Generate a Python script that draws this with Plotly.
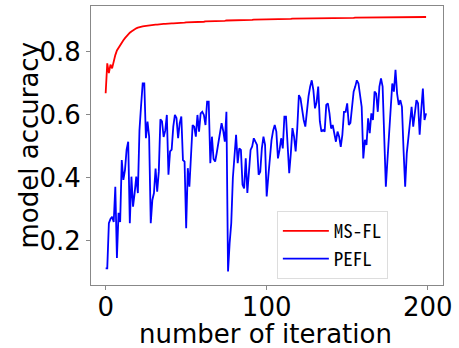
import plotly.graph_objects as go

iterations = list(range(200))

ms_fl = [
    0.669, 0.764, 0.733, 0.760, 0.748, 0.772, 0.790, 0.805, 0.814, 0.822,
    0.830, 0.837, 0.844, 0.851, 0.856, 0.861, 0.865, 0.869, 0.872, 0.875,
    0.877, 0.879, 0.880, 0.881, 0.882, 0.883, 0.884, 0.885, 0.885, 0.886,
    0.886, 0.887, 0.887, 0.888, 0.888, 0.889, 0.889, 0.889, 0.890, 0.890,
    0.890, 0.891, 0.891, 0.891, 0.892, 0.892, 0.892, 0.893, 0.893, 0.893,
    0.894, 0.894, 0.894, 0.894, 0.895, 0.895, 0.895, 0.895, 0.896, 0.896,
    0.896, 0.896, 0.897, 0.897, 0.897, 0.897, 0.898, 0.898, 0.898, 0.898,
    0.899, 0.899, 0.899, 0.899, 0.899, 0.900, 0.900, 0.900, 0.900, 0.900,
    0.901, 0.901, 0.901, 0.901, 0.901, 0.901, 0.902, 0.902, 0.902, 0.902,
    0.902, 0.902, 0.903, 0.903, 0.903, 0.903, 0.903, 0.903, 0.903, 0.904,
    0.904, 0.904, 0.904, 0.904, 0.904, 0.904, 0.904, 0.905, 0.905, 0.905,
    0.905, 0.905, 0.905, 0.905, 0.905, 0.905, 0.906, 0.906, 0.906, 0.906,
    0.906, 0.906, 0.906, 0.906, 0.906, 0.906, 0.906, 0.907, 0.907, 0.907,
    0.907, 0.907, 0.907, 0.907, 0.907, 0.907, 0.907, 0.907, 0.907, 0.907,
    0.908, 0.908, 0.908, 0.908, 0.908, 0.908, 0.908, 0.908, 0.908, 0.908,
    0.908, 0.908, 0.908, 0.908, 0.908, 0.909, 0.909, 0.909, 0.909, 0.909,
    0.909, 0.909, 0.909, 0.909, 0.909, 0.909, 0.909, 0.909, 0.909, 0.909,
    0.909, 0.909, 0.910, 0.910, 0.910, 0.910, 0.910, 0.910, 0.910, 0.910,
    0.910, 0.910, 0.910, 0.910, 0.910, 0.910, 0.910, 0.910, 0.910, 0.910,
    0.910, 0.910, 0.910, 0.910, 0.910, 0.910, 0.911, 0.911, 0.911, 0.911,
]

pefl = [
    0.113, 0.113, 0.256, 0.270, 0.277, 0.260, 0.372, 0.146, 0.289, 0.260,
    0.457, 0.394, 0.425, 0.490, 0.515, 0.256, 0.404, 0.309, 0.352, 0.404,
    0.352, 0.552, 0.630, 0.700, 0.700, 0.526, 0.579, 0.531, 0.256, 0.330,
    0.352, 0.430, 0.356, 0.420, 0.586, 0.580, 0.530, 0.550, 0.600, 0.410,
    0.484, 0.490, 0.563, 0.600, 0.590, 0.526, 0.574, 0.595, 0.457, 0.452,
    0.240, 0.431, 0.372, 0.470, 0.568, 0.563, 0.531, 0.600, 0.547, 0.605,
    0.610, 0.600, 0.568, 0.642, 0.642, 0.447, 0.531, 0.460, 0.452, 0.480,
    0.510, 0.531, 0.574, 0.550, 0.515, 0.610, 0.103, 0.193, 0.256, 0.400,
    0.489, 0.537, 0.447, 0.494, 0.489, 0.378, 0.367, 0.462, 0.352, 0.436,
    0.489, 0.500, 0.526, 0.515, 0.505, 0.410, 0.420, 0.494, 0.531, 0.505,
    0.341, 0.404, 0.463, 0.520, 0.550, 0.568, 0.547, 0.462, 0.489, 0.526,
    0.494, 0.595, 0.595, 0.489, 0.415, 0.478, 0.558, 0.531, 0.484, 0.558,
    0.663, 0.653, 0.616, 0.584, 0.563, 0.626, 0.660, 0.690, 0.710, 0.679,
    0.621, 0.640, 0.690, 0.580, 0.547, 0.552, 0.547, 0.632, 0.637, 0.605,
    0.557, 0.568, 0.537, 0.515, 0.547, 0.531, 0.499, 0.537, 0.610, 0.610,
    0.637, 0.568, 0.575, 0.637, 0.674, 0.690, 0.710, 0.700, 0.663, 0.626,
    0.462, 0.521, 0.505, 0.589, 0.542, 0.605, 0.584, 0.674, 0.668, 0.610,
    0.690, 0.716, 0.690, 0.530, 0.372, 0.457, 0.550, 0.626, 0.700, 0.674,
    0.743, 0.668, 0.632, 0.647, 0.626, 0.489, 0.372, 0.478, 0.531, 0.574,
    0.626, 0.563, 0.616, 0.647, 0.637, 0.537, 0.616, 0.684, 0.584, 0.605,
]

series_names = ["MS-FL", "PEFL"]
series_colors = ["#ff0000", "#0000ff"]
x_ticks = [0, 100, 200]
y_ticks = [0.2, 0.4, 0.6, 0.8]
x_title = "number of iteration"
y_title = "model accuracy"

fig = go.Figure()
for name, vals, col in zip(series_names, [ms_fl, pefl], series_colors):
    fig.add_trace(go.Scatter(x=iterations, y=vals, mode="lines", name=name,
                             line=dict(color=col, width=1.8)))

axis_font = dict(family="DejaVu Sans", size=26, color="#000000")
fig.update_layout(
    width=459, height=348,
    margin=dict(l=91, r=16, t=6, b=63),
    paper_bgcolor="white", plot_bgcolor="white",
    showlegend=True,
    legend=dict(
        x=0.528, y=0.265, xanchor="left", yanchor="top",
        bgcolor="white", bordercolor="#dddddd", borderwidth=1,
        font=dict(family="Noto Sans Mono CJK JP, DejaVu Sans Mono", size=19, color="#000000"),
        itemwidth=46,
    ),
    xaxis=dict(
        range=[-9.1, 209.5], tickvals=x_ticks, ticktext=[str(t) for t in x_ticks],
        showgrid=False, zeroline=False, showline=True, mirror=True,
        linecolor="#888888", linewidth=1, ticks="outside", ticklen=4,
        tickcolor="#888888", tickfont=axis_font, ticklabelstandoff=-5,
    ),
    yaxis=dict(
        range=[0.06, 0.946], tickvals=y_ticks, ticktext=[f"{t:.1f}" for t in y_ticks],
        showgrid=False, zeroline=False, showline=True, mirror=True,
        linecolor="#888888", linewidth=1, ticks="outside", ticklen=4,
        tickcolor="#888888", tickfont=axis_font,
    ),
    annotations=[
        dict(text=y_title, xref="paper", yref="paper", x=0, y=0.5,
             xanchor="center", yanchor="middle", xshift=-63, textangle=-90,
             showarrow=False, font=axis_font),
        dict(text=x_title, xref="paper", yref="paper", x=0.496, y=0,
             xanchor="center", yanchor="middle", yshift=-49,
             showarrow=False, font=axis_font),
    ],
)

fig.write_html("out.html")
